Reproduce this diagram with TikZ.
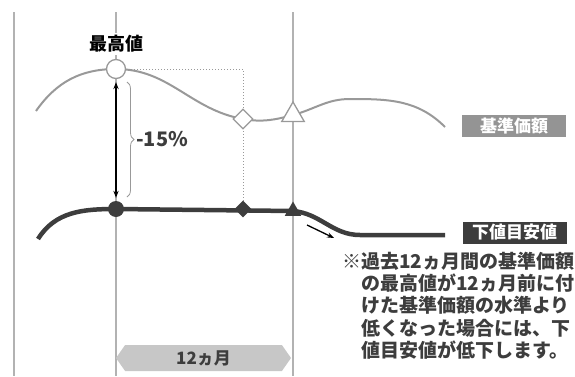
\documentclass[tikz,border=0pt]{standalone}
\usepackage{fontspec}
\setmainfont{Noto Sans CJK JP}
\usetikzlibrary{shapes.geometric,shapes.symbols,decorations.pathreplacing,arrows.meta}
\definecolor{linegray}{gray}{0.70}
\definecolor{curvegray}{gray}{0.60}
\definecolor{inkdark}{gray}{0.24}
\definecolor{boxgray}{gray}{0.58}
\definecolor{bargray}{gray}{0.78}
\begin{document}
\begin{tikzpicture}[x=1pt,y=1pt,
    guide/.style={draw=linegray,line width=2.5pt},
    openmark/.style={draw=curvegray,fill=white,line width=1.3pt,inner sep=0pt},
    fullmark/.style={fill=inkdark,inner sep=0pt},
    tag/.style={text=white,font=\fontsize{17}{20}\selectfont\bfseries,
      minimum width=104pt,minimum height=22pt,inner sep=0pt}]
  \useasboundingbox (0,0) rectangle (575,376);
  % guide lines
  \draw[guide] (14,364) -- (14,0);
  \draw[guide] (116,364) -- (116,0);
  \draw[guide] (293,364) -- (293,0);
  % curve ends
  \coordinate (us) at (36,265);
  \coordinate (ut) at (350,277);
  \coordinate (ue) at (445,249);
  \coordinate (ls) at (38,137);
  \coordinate (lb) at (360,141);
  \coordinate (le) at (445,141);
  \coordinate (a1) at (307,151);
  \coordinate (a2) at (334,138);
  \coordinate (bt) at (127,294);
  \coordinate (bb) at (127,179);
  \path
    (116,307) coordinate (peakc)
    (243,257) coordinate (diac)
    (293,261) coordinate (tric)
    (116,167) coordinate (lowc)
    (243,167) coordinate (ldiac)
    (293,165) coordinate (ltric);
  % dotted guide
  \draw[curvegray,line width=1pt,dotted] (peakc) -| (ldiac);
  % curves
  \draw[curvegray,line width=2pt]
    (us) to[out=55,in=180] (peakc) to[out=0,in=170] (diac)
    to[out=-10,in=195] (tric) to[out=15,in=180] (ut) to[out=0,in=135] (ue);
  \draw[inkdark,line width=4.5pt]
    (ls) to[out=58,in=180] (lowc) -- (ltric) to[out=-5,in=180] (lb) -- (le);
  % marks
  \node[openmark,circle,minimum size=19pt] (peak) at (peakc) {};
  \node[openmark,diamond,minimum size=20pt] (dia) at (diac) {};
  \node[openmark,regular polygon,regular polygon sides=3,minimum size=26pt] (tri) at (tric) {};
  \node[fullmark,circle,minimum size=16pt] (low) at (lowc) {};
  \node[fullmark,diamond,minimum size=17pt] (ldia) at (ldiac) {};
  \node[fullmark,regular polygon,regular polygon sides=3,minimum size=19pt] (ltri) at (ltric) {};
  % labels
  \node[fill=white,inner sep=2pt,font=\fontsize{18}{20}\selectfont\bfseries] (top) at (116,332) {最高値};
  \draw[{Stealth[length=7pt]}-{Stealth[length=7pt]},line width=1.4pt,shorten <=3pt,shorten >=3pt] (peak) -- (low);
  \draw[curvegray,line width=0.8pt,decorate,decoration={brace,amplitude=7pt}] (bt) -- (bb);
  \node[anchor=west,inner sep=0pt,text=inkdark,font=\fontsize{20}{22}\selectfont\bfseries] (pct) at (136,237) {-15\%};
  \draw[-{Stealth[length=7pt]},line width=1.3pt] (a1) -- (a2);
  \node[tag,fill=boxgray] (base) at (514,250) {基準価額};
  \node[tag,fill=inkdark] (floor) at (514.5,143.5) {下値目安値};
  \node[signal,signal to=west and east,signal pointer angle=110,fill=bargray,
    minimum width=175pt,minimum height=26pt,inner sep=0pt,text=inkdark,
    font=\fontsize{17}{20}\selectfont\bfseries] (span) at (203.5,18) {12ヵ月};
  \node[anchor=north west,align=left,inner sep=0pt,text=inkdark,
    font=\fontsize{19}{22.2}\selectfont\bfseries] (note) at (342,124)
    {※過去12ヵ月間の基準価額\\
     \hspace*{1em}の最高値が12ヵ月前に付\\
     \hspace*{1em}けた基準価額の水準より\\
     \hspace*{1em}低くなった場合には、下\\
     \hspace*{1em}値目安値が低下します。};
\end{tikzpicture}
\end{document}
